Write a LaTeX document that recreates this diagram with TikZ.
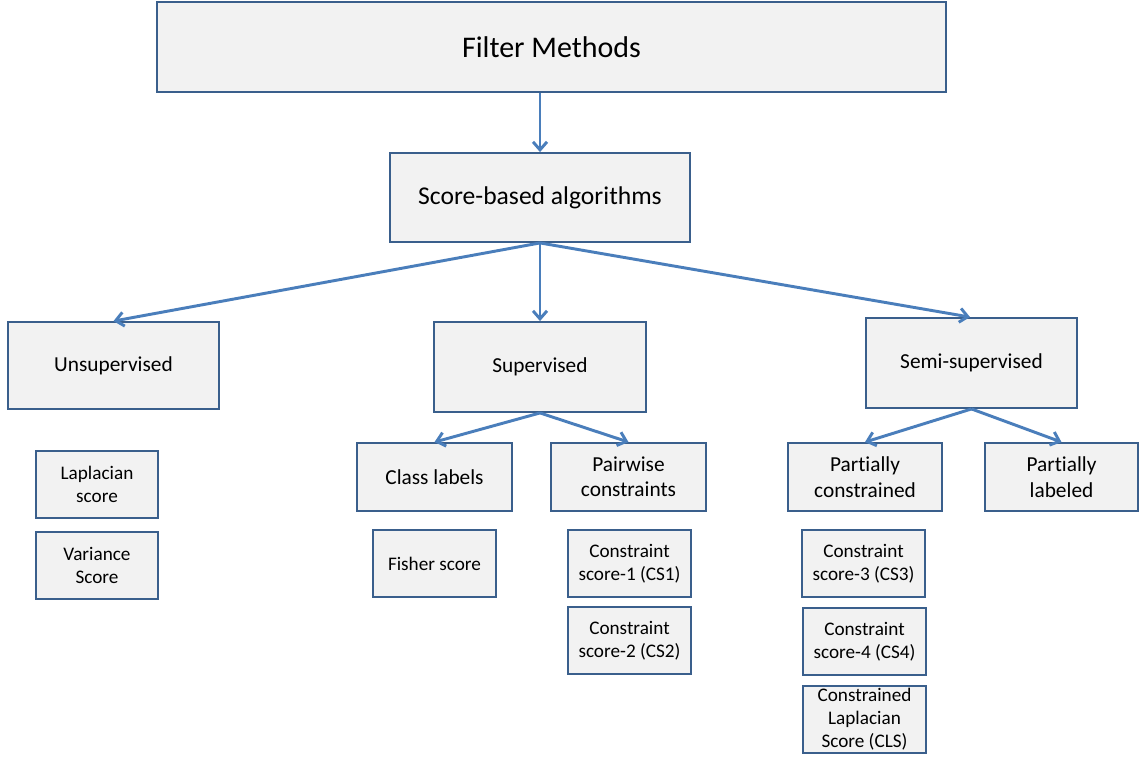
\documentclass[tikz,border=0pt]{standalone}
\usepackage{fontspec}
\setmainfont{Carlito}[Ligatures=NoCommon]
\usetikzlibrary{arrows.meta}
\definecolor{boxf}{HTML}{F2F2F2}
\definecolor{boxd}{HTML}{3A5F8C}
\definecolor{arr}{HTML}{4A7EBB}
\begin{document}
\begin{tikzpicture}[x=0.75pt,y=-0.75pt,
  box/.style={draw=boxd, fill=boxf, line width=1.4pt, inner sep=0pt, align=center,
    execute at begin node={\vspace*{3pt}}},
  sz/.style 2 args={minimum width=#1*0.75pt, minimum height=#2*0.75pt},
  big/.style={font=\fontsize{22.5}{27}\selectfont},
  mid/.style={font=\fontsize{19.2}{23}\selectfont},
  med/.style={font=\fontsize{16}{19}\selectfont},
  sml/.style={font=\fontsize{14.4}{17.25}\selectfont},
  conn/.style={draw=arr, line width=2.2pt, -{Straight Barb[length=6pt,width=10.5pt,line width=2.2pt]}}
]
\fill[white] (0,0) rectangle (1141,758);
\useasboundingbox (0,0) rectangle (1141,758);

\node[box,big,sz={789}{90}] (filter) at (551.5,47) {Filter Methods};
\node[box,mid,sz={300}{89}] (score) at (540,197.5) {Score-based algorithms};
\node[box,med,sz={211}{87}] (unsup) at (113.5,365.5) {Unsupervised};
\node[box,med,sz={212}{90}] (sup) at (540,367) {Supervised};
\node[box,med,sz={211}{90}] (semi) at (971.5,363) {Semi-supervised};

\node[box,sml,sz={122}{67}] (lap) at (97,484.5) {Laplacian\\score};
\node[box,sml,sz={122}{67}] (var) at (97,565.5) {Variance\\Score};

\node[box,med,sz={155}{68}] (cls) at (434.5,477) {Class labels};
\node[box,med,sz={155}{68}] (pair) at (628.5,477) {Pairwise\\constraints};
\node[box,sml,sz={123}{67}] (fisher) at (434.5,563.5) {Fisher score};
\node[box,sml,sz={123}{67}] (cs1) at (629.5,563.5) {Constraint\\score-1 (CS1)};
\node[box,sml,sz={123}{67}] (cs2) at (629.5,640.5) {Constraint\\score-2 (CS2)};

\node[box,med,sz={154}{68}] (pc) at (865,477) {Partially\\constrained};
\node[box,med,sz={153}{68}] (pl) at (1061.5,477) {Partially\\labeled};
\node[box,sml,sz={123}{67}] (cs3) at (863.5,563.5) {Constraint\\score-3 (CS3)};
\node[box,sml,sz={123}{67}] (cs4) at (864.5,641.5) {Constraint\\score-4 (CS4)};
\node[box,sml,sz={123}{67}] (clsc) at (864.5,719.5) {Constrained\\Laplacian\\Score (CLS)};

\draw[conn] (filter.south -| score.north) -- (score.north);
\draw[conn] (score.south) -- (unsup.north);
\draw[conn] (score.south) -- (sup.north);
\draw[conn] (score.south) -- ([xshift=-1.5*0.75pt]semi.north);
\draw[conn] (sup.south) -- (cls.north);
\draw[conn] (sup.south) -- (pair.north);
\draw[conn] (semi.south) -- (pc.north);
\draw[conn] (semi.south) -- (pl.north);
\end{tikzpicture}
\end{document}
